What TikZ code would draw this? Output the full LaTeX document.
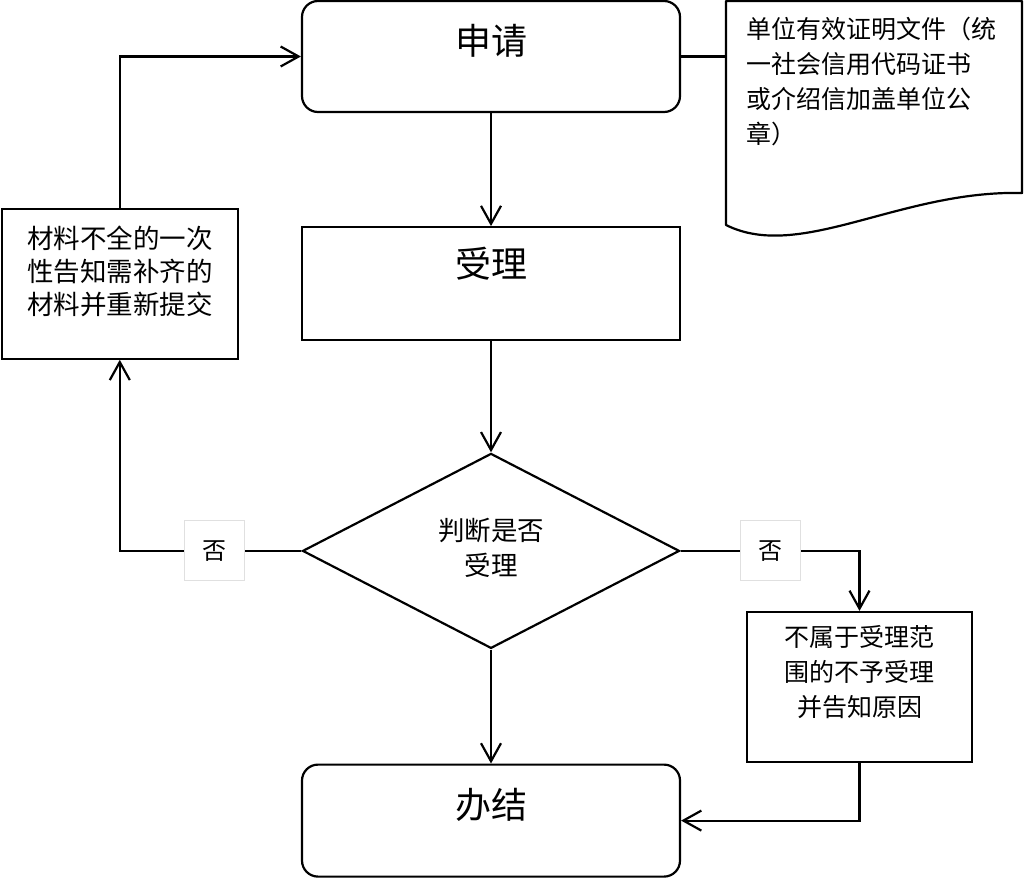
\documentclass[tikz,border=0pt]{standalone}
\usepackage{fontspec}
\newfontfamily\cjk{Noto Sans CJK SC}
\usepackage{tikz}
\usetikzlibrary{arrows.meta, positioning, shapes.geometric}
\usepackage{xcolor}
\definecolor{Ink}{gray}{0.0}
\definecolor{TagEdge}{gray}{0.88}
\newcommand{\bigcjk}{\cjk\fontsize{36pt}{40pt}\selectfont}
\newcommand{\smallcjk}{\cjk\fontsize{25pt}{35pt}\selectfont}
\newcommand{\widecjk}{\cjk\fontsize{26.5pt}{33pt}\selectfont}
\tikzset{%
  stage/.style={%
    rectangle,%
    draw=Ink,%
    line width=2.2pt,%
    minimum width=378pt,%
    minimum height=112pt,%
    inner sep=0pt,%
    font={\bigcjk},%
    align=center%
  },
  smooth_stage/.style={%
    stage,%
    rounded corners=16pt,%
  },
  decision/.style={%
    diamond,%
    draw=Ink,%
    line width=2.2pt,%
    minimum width=377pt,%
    minimum height=195pt,%
    inner sep=0pt,%
    font={\cjk\fontsize{26.5pt}{35pt}\selectfont},%
    align=center,%
  },
  note_block/.style={%
    rectangle,%
    draw=Ink,%
    line width=2.2pt,%
    minimum height=150pt,%
    inner sep=0pt,%
    font={\smallcjk},%
    align=center,%
  },
  tag/.style={%
    rectangle,%
    fill=white,%
    draw=TagEdge,%
    line width=1pt,%
    minimum width=60pt,%
    minimum height=60pt,%
    font={\cjk\fontsize{24pt}{28pt}\selectfont},%
  },
  smooth_path/.style={%
    color=Ink,%
    line width=2.2pt,%
  },
  lift/.style={text depth=#1},
  arrow/.style={-{Straight Barb[length=18pt, width=20pt]}},
}

\begin{document}
\begin{tikzpicture}[x=1pt, y=-1pt]
    \useasboundingbox (0,0) rectangle (1025,882);
    \node [smooth_stage, minimum height=111pt, lift=35pt] (apply) at (491,56.5) {申请};
    \node [stage, minimum height=113pt, lift=43pt, below = 113pt of apply] (accept) {受理};
    \node [decision, lift=8pt, below = 111pt of accept] (judge) {判断是否\\受理};
    \node [smooth_stage, lift=35pt, below = 114pt of judge] (finish) {办结};
    \node [note_block, minimum width=236pt, lift=27pt, font={\widecjk},
      left = 62pt of accept] (reissue)
      {材料不全的一次\\性告知需补齐的\\材料并重新提交};
    \node [note_block, minimum width=225pt, lift=33pt] (refuse) at (859.5,687)
      {不属于受理范\\围的不予受理\\并告知原因};

    % document sheet
    \node [anchor=north west, inner sep=0pt, font={\smallcjk}, align=left] (docs) at (746,17)
      {单位有效证明文件（统\\一社会信用代码证书\\或介绍信加盖单位公\\章）};
    \draw [smooth_path, line join=round]
      (726,1) -- (1022,1) -- (1022,193)
      .. controls (900,190) and (800,262) .. (726,225) -- cycle;
    \coordinate (docs_edge) at (726,56.5);

    \draw [arrow, smooth_path]
      (apply.south) -- (accept.north);
    \draw [arrow, smooth_path]
      (accept.south) -- (judge.north);
    \draw [arrow, smooth_path]
      (judge.south) -- (finish.north);
    \draw [arrow, smooth_path]
      (judge.west)
      -|
      node [tag, pos=0.24] (no_left) {否}
      (reissue.south);
    \draw [arrow, smooth_path]
      (reissue.north)
      |-
      (apply.west);
    \draw [arrow, smooth_path]
      (judge.east)
      -|
      node [tag, pos=0.25] (no_right) {否}
      (refuse.north);
    \draw [arrow, smooth_path]
      (refuse.south)
      |-
      (finish.east);
    \draw [smooth_path]
      (apply.east) -- (docs_edge);
  \end{tikzpicture}
\end{document}
